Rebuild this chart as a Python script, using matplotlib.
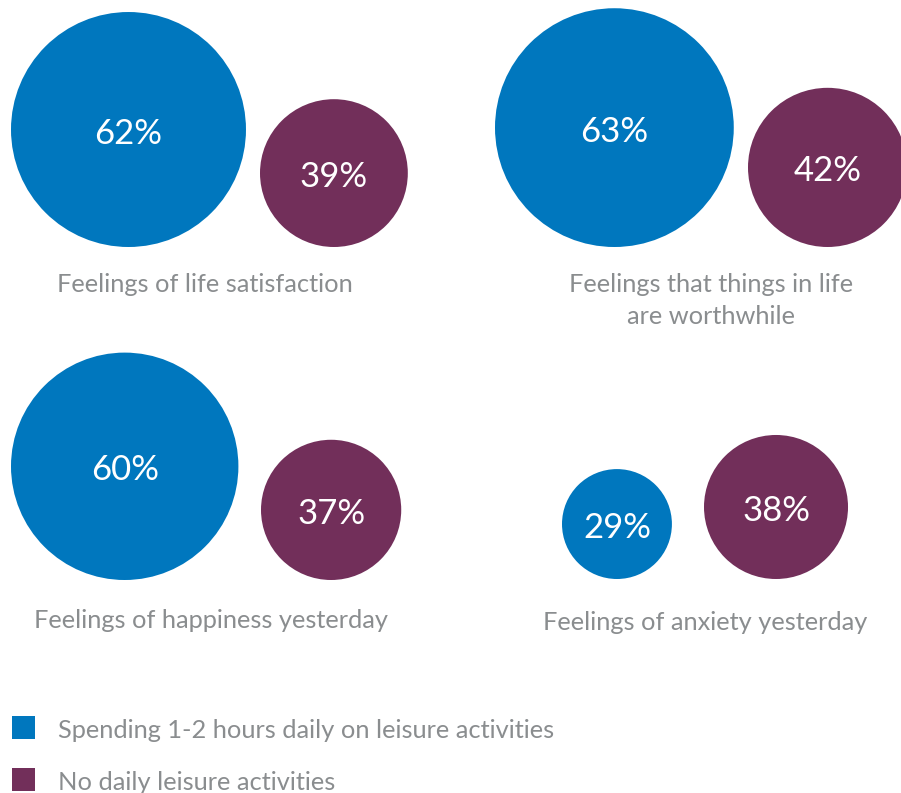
import matplotlib.pyplot as plt
from matplotlib.patches import Circle, Rectangle

plt.rcParams['font.family'] = ['Lato', 'DejaVu Sans']

# data
measures = ['Feelings of life satisfaction',
            'Feelings that things in life\nare worthwhile',
            'Feelings of happiness yesterday',
            'Feelings of anxiety yesterday']
leisure = [62, 63, 60, 29]
no_leisure = [39, 42, 37, 38]
series_names = ['Spending 1-2 hours daily on leisure activities',
                'No daily leisure activities']

blue = '#0077be'
purple = '#722f5a'
grey = '#8a8d8f'

# layout (pixels, y down)
px_per_pct = 1.895
blue_left = [11, 495, 11, 562]
purple_left = [260, 748, 261, 704]
bottoms = [247, 247, 580, 579]
label_xy = [(205, 284), (711, 284), (211, 620), (705, 622)]

fig = plt.figure(figsize=(9.01, 7.93), dpi=100)
ax = fig.add_axes([0, 0, 1, 1])
ax.set_xlim(0, 901)
ax.set_ylim(793, 0)
ax.set_aspect('equal')
ax.axis('off')

for i in range(len(measures)):
    for val, left, col in [(leisure[i], blue_left[i], blue),
                           (no_leisure[i], purple_left[i], purple)]:
        r = val * px_per_pct
        cx = left + r
        cy = bottoms[i] - r
        ax.add_patch(Circle((cx, cy), r, color=col, lw=0))
        ax.text(cx, cy + 4, f'{val}%', color='white', fontsize=25,
                ha='center', va='center')
    lx, ly = label_xy[i]
    for k, line in enumerate(measures[i].split('\n')):
        ax.text(lx, ly + k * 32, line, color=grey, fontsize=18.3,
                ha='center', va='center')

# legend
for j, (name, col) in enumerate(zip(series_names, [blue, purple])):
    y0 = 716 + j * 52
    ax.add_patch(Rectangle((12, y0), 23, 23, color=col, lw=0))
    ax.text(58, y0 + 14, name, color=grey, fontsize=18.3, va='center', ha='left')

fig.savefig('out.png', dpi=100)
